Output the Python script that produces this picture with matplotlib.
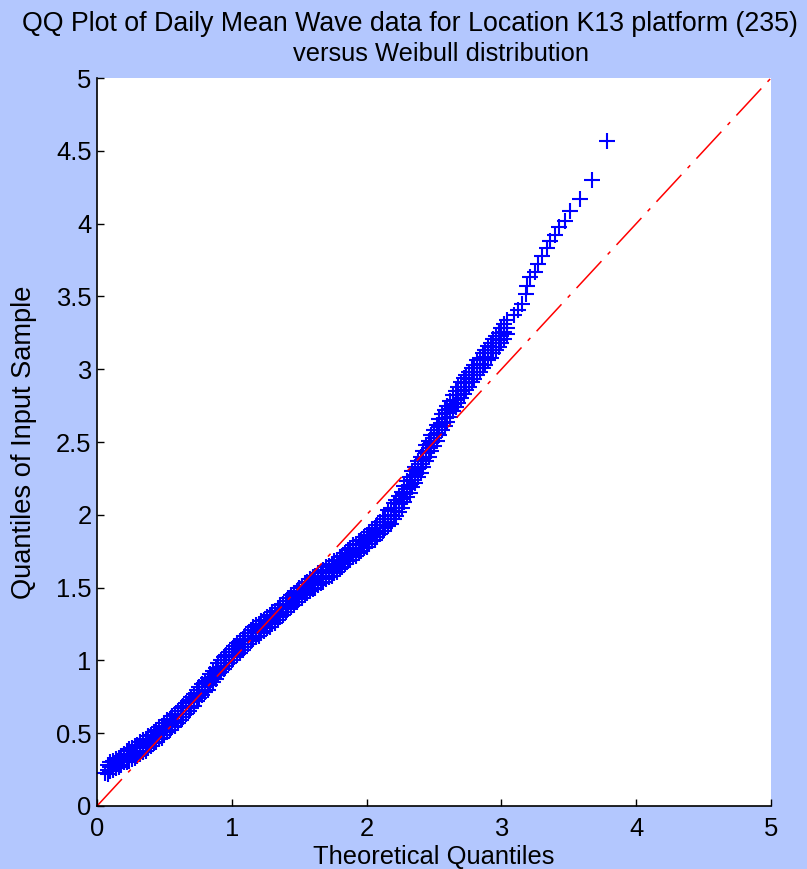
import numpy as np
import matplotlib
matplotlib.use("Agg")
import matplotlib.pyplot as plt

# dense part of the QQ cloud: theoretical Weibull quantiles with the
# upper edge, middle and lower edge of the sample quantiles at each of them
theo_band = [
    0.08, 0.10, 0.12, 0.14, 0.16, 0.18, 0.20,
    0.22, 0.24, 0.26, 0.28, 0.30, 0.32, 0.34, 0.36, 0.38, 0.40, 0.42, 0.44,
    0.46, 0.48, 0.50, 0.52, 0.54, 0.56, 0.58, 0.60, 0.62, 0.64, 0.66, 0.68,
    0.70, 0.72, 0.74, 0.76, 0.78, 0.80, 0.82, 0.84, 0.86, 0.88, 0.90, 0.92,
    0.94, 0.96, 0.98, 1.00, 1.02, 1.04, 1.06, 1.08, 1.10, 1.12, 1.14, 1.16,
    1.18, 1.20, 1.22, 1.24, 1.26, 1.28, 1.30, 1.32, 1.34, 1.36, 1.38, 1.40,
    1.42, 1.44, 1.46, 1.48, 1.50, 1.52, 1.54, 1.56, 1.58, 1.60, 1.62, 1.64,
    1.66, 1.68, 1.70, 1.72, 1.74, 1.76, 1.78, 1.80, 1.82, 1.84, 1.86, 1.88,
    1.90, 1.92, 1.94, 1.96, 1.98, 2.00, 2.02, 2.04, 2.06, 2.08, 2.10, 2.12,
    2.14,
    2.16, 2.18, 2.20, 2.22, 2.24, 2.26, 2.28, 2.30, 2.32, 2.34, 2.36, 2.38,
    2.40, 2.42, 2.44, 2.46, 2.48, 2.50, 2.52, 2.54, 2.56, 2.58, 2.60, 2.62,
    2.64, 2.66, 2.68, 2.70, 2.72,
    2.74, 2.76, 2.78, 2.80, 2.82, 2.84, 2.86, 2.88, 2.90, 2.92, 2.94, 2.96,
    2.98, 3.00, 3.02, 3.04,
]
sample_upper = [
    0.28, 0.30, 0.31, 0.32, 0.33, 0.34, 0.36,
    0.38, 0.39, 0.40, 0.41, 0.42, 0.44, 0.45, 0.46, 0.48, 0.49, 0.51, 0.52,
    0.54, 0.55, 0.57, 0.59, 0.60, 0.62, 0.63, 0.65, 0.67, 0.69, 0.71, 0.73,
    0.75, 0.77, 0.80, 0.82, 0.84, 0.86, 0.88, 0.91, 0.93, 0.95, 0.98, 1.00,
    1.02, 1.04, 1.06, 1.08, 1.10, 1.12, 1.13, 1.15, 1.17, 1.19, 1.21, 1.23,
    1.24, 1.25, 1.27, 1.28, 1.30, 1.31, 1.33, 1.34, 1.36, 1.38, 1.39, 1.41,
    1.43, 1.45, 1.46, 1.48, 1.50, 1.51, 1.53, 1.54, 1.56, 1.57, 1.58, 1.60,
    1.61, 1.62, 1.64, 1.65, 1.66, 1.68, 1.69, 1.71, 1.72, 1.74, 1.76, 1.77,
    1.79, 1.80, 1.82, 1.83, 1.85, 1.86, 1.88, 1.90, 1.91, 1.93, 1.95, 1.97,
    1.99,
    2.03, 2.05, 2.08, 2.10, 2.13, 2.16, 2.20, 2.23, 2.26, 2.30, 2.33, 2.37,
    2.40, 2.44, 2.48, 2.51, 2.55, 2.58, 2.62, 2.66, 2.69, 2.72, 2.75, 2.78,
    2.82, 2.85, 2.88, 2.91, 2.94,
    2.96, 2.98, 3.01, 3.03, 3.06, 3.08, 3.11, 3.13, 3.16, 3.18, 3.21, 3.23,
    3.25, 3.28, 3.31, 3.34,
]
sample_mid = [
    0.250, 0.270, 0.281, 0.292, 0.303, 0.314, 0.325,
    0.336, 0.347, 0.358, 0.369, 0.380, 0.395, 0.409, 0.424, 0.439, 0.453,
    0.468, 0.483,
    0.498, 0.514, 0.530, 0.546, 0.562, 0.578, 0.594, 0.610, 0.630, 0.650,
    0.670, 0.690,
    0.711, 0.733, 0.755, 0.776, 0.798, 0.820, 0.843, 0.866, 0.889, 0.912,
    0.935, 0.958,
    0.980, 1.000, 1.020, 1.040, 1.058, 1.075, 1.093, 1.110, 1.130, 1.150,
    1.170, 1.185,
    1.199, 1.214, 1.228, 1.243, 1.258, 1.273, 1.289, 1.304, 1.319, 1.335,
    1.350, 1.368,
    1.387, 1.405, 1.423, 1.442, 1.460, 1.474, 1.488, 1.501, 1.515, 1.529,
    1.543, 1.557,
    1.570, 1.583, 1.597, 1.610, 1.623, 1.638, 1.653, 1.668, 1.684, 1.699,
    1.715, 1.730,
    1.745, 1.760, 1.775, 1.790, 1.805, 1.820, 1.838, 1.855, 1.873, 1.890,
    1.910, 1.930,
    1.950,
    1.973, 1.998, 2.023, 2.048, 2.076, 2.109, 2.142, 2.175, 2.207, 2.240,
    2.276, 2.313,
    2.349, 2.385, 2.422, 2.458, 2.493, 2.529, 2.564, 2.600, 2.632, 2.664,
    2.696, 2.728,
    2.760, 2.790, 2.820, 2.850, 2.880,
    2.906, 2.931, 2.957, 2.983, 3.009, 3.034, 3.060, 3.084, 3.108, 3.132,
    3.156, 3.180, 3.204, 3.228, 3.255, 3.285,
]
sample_lower = [
    0.22, 0.24, 0.25, 0.26, 0.27, 0.28, 0.30,
    0.30, 0.31, 0.32, 0.33, 0.34, 0.36, 0.37, 0.38, 0.40, 0.41, 0.43, 0.44,
    0.46, 0.47, 0.49, 0.51, 0.52, 0.54, 0.55, 0.57, 0.59, 0.61, 0.63, 0.65,
    0.67, 0.69, 0.72, 0.74, 0.76, 0.78, 0.80, 0.83, 0.85, 0.87, 0.90, 0.92,
    0.94, 0.96, 0.98, 1.00, 1.02, 1.04, 1.05, 1.07, 1.09, 1.11, 1.13, 1.15,
    1.16, 1.17, 1.19, 1.20, 1.22, 1.23, 1.25, 1.26, 1.28, 1.30, 1.31, 1.33,
    1.35, 1.37, 1.38, 1.40, 1.42, 1.43, 1.45, 1.46, 1.48, 1.49, 1.50, 1.52,
    1.53, 1.54, 1.56, 1.57, 1.58, 1.60, 1.61, 1.63, 1.64, 1.66, 1.68, 1.69,
    1.71, 1.72, 1.74, 1.75, 1.77, 1.78, 1.80, 1.82, 1.83, 1.85, 1.87, 1.89,
    1.91,
    1.92, 1.94, 1.97, 1.99, 2.02, 2.05, 2.09, 2.12, 2.15, 2.19, 2.22, 2.26,
    2.29, 2.33, 2.37, 2.40, 2.44, 2.47, 2.51, 2.55, 2.58, 2.61, 2.64, 2.67,
    2.71, 2.74, 2.77, 2.80, 2.83,
    2.86, 2.88, 2.91, 2.93, 2.96, 2.98, 3.01, 3.03, 3.06, 3.08, 3.11, 3.13,
    3.15, 3.18, 3.21, 3.24,
]

# isolated points at both ends of the distribution
theo_tail = [0.06, 3.09, 3.12, 3.15, 3.18, 3.19, 3.21, 3.25, 3.27, 3.30, 3.34,
             3.36, 3.40, 3.43, 3.47, 3.51, 3.58, 3.67, 3.78]
sample_tail = [0.23, 3.37, 3.41, 3.45, 3.52, 3.57, 3.63, 3.67, 3.72, 3.78, 3.83,
               3.88, 3.92, 3.98, 4.02, 4.09, 4.17, 4.30, 4.57]

ref_line = [0, 5]

theo_q = np.concatenate([theo_band, theo_band, theo_band, theo_tail])
sample_q = np.concatenate([sample_upper, sample_mid, sample_lower, sample_tail])

bg = "#b3c7fe"
fs = 18.4
plt.rcParams["font.family"] = ["Liberation Sans", "DejaVu Sans"]

fig = plt.figure(figsize=(8.07, 8.69), dpi=100, facecolor=bg)
ax = fig.add_axes([0.1202, 0.0725, 0.8352, 0.8377])

ax.plot(theo_q, sample_q, linestyle="none", marker="+", color="#0000ff",
        markersize=11.5, markeredgewidth=1.5)
ax.plot(ref_line, ref_line, color="#ff0000", linewidth=1.1,
        linestyle=(0, (24, 6, 2.5, 6)))

ax.set_xlim(0, 5)
ax.set_ylim(0, 5)
ax.set_xticks(np.arange(0, 6, 1))
ax.set_yticks(np.arange(0, 5.5, 0.5))
ax.set_xticklabels([str(v) for v in range(6)])
ax.set_yticklabels(["0", "0.5", "1", "1.5", "2", "2.5", "3", "3.5", "4", "4.5", "5"])
for side in ("top", "right"):
    ax.spines[side].set_visible(False)
for side in ("left", "bottom"):
    ax.spines[side].set_linewidth(1.2)
ax.tick_params(direction="in", length=5, width=1, labelsize=fs)
ax.tick_params(axis="x", pad=8)
ax.tick_params(axis="y", pad=4)

# two-line title, first line kept inside the figure
fig.text(410 / 807, 1 - 31 / 869,
         "QQ Plot of Daily Mean Wave data for Location K13 platform (235)",
         ha="center", va="baseline", fontsize=19.3)
fig.text(441 / 807, 1 - 61 / 869, "versus Weibull distribution",
         ha="center", va="baseline", fontsize=fs)
ax.set_xlabel("Theoretical Quantiles", fontsize=fs, labelpad=3)
ax.set_ylabel("Quantiles of Input Sample", fontsize=19.6, labelpad=14)

fig.savefig("out.png", dpi=100, facecolor=bg)
